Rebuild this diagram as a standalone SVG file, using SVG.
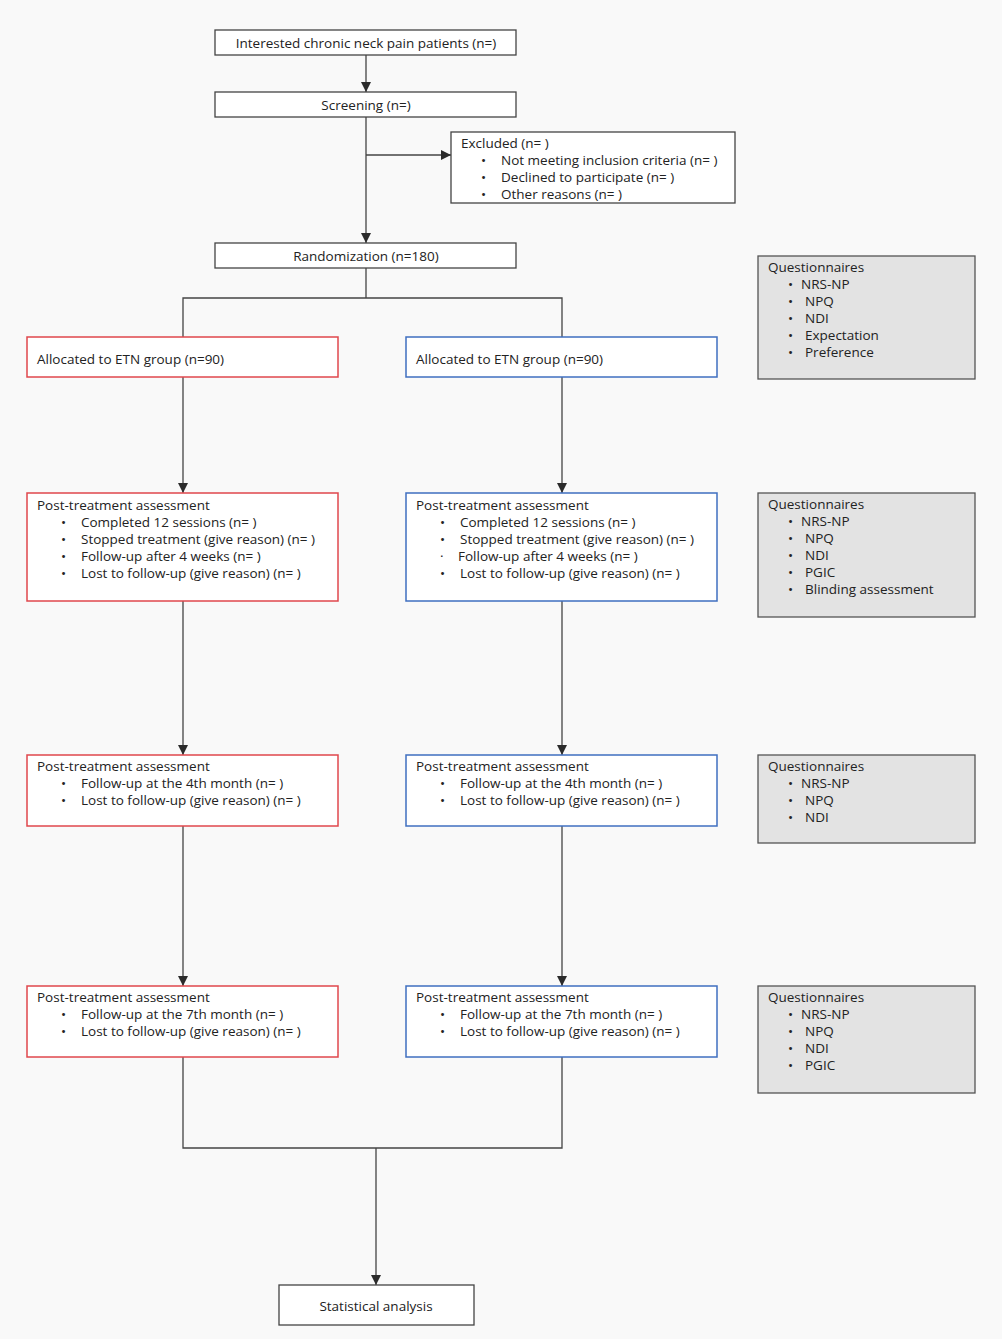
<svg xmlns="http://www.w3.org/2000/svg" width="1002" height="1339" viewBox="0 0 1002 1339">
<defs>
<marker id="arr" viewBox="0 0 10 10" refX="10" refY="5" markerWidth="10" markerHeight="10" markerUnits="userSpaceOnUse" orient="auto">
<path d="M0,0 L10,5 L0,10 Z" fill="#2b2b2b"/>
</marker>
<style>
text{font-family:"Open Sans","Noto Sans","Liberation Sans",sans-serif;font-size:13.5px;fill:#222}
.c{text-anchor:middle}
.box{fill:#fff;stroke:#444;stroke-width:1.3}
.red{fill:#fff;stroke:#e0474c;stroke-width:1.5}
.blue{fill:#fff;stroke:#3f6fc0;stroke-width:1.5}
.q{fill:#e3e3e3;stroke:#555;stroke-width:1.3}
.ln{fill:none;stroke:#444;stroke-width:1.3}
</style>
</defs>
<rect x="0" y="0" width="1002" height="1339" fill="#f9f9f9"/>
<g id="connectors">
<line class="ln" x1="366" y1="55" x2="366" y2="92" marker-end="url(#arr)"/>
<line class="ln" x1="366" y1="117" x2="366" y2="243" marker-end="url(#arr)"/>
<line class="ln" x1="366" y1="155" x2="451" y2="155" marker-end="url(#arr)"/>
<polyline class="ln" points="366,268 366,298"/>
<polyline class="ln" points="183,337 183,298 562,298 562,337"/>
<line class="ln" x1="183" y1="377" x2="183" y2="493" marker-end="url(#arr)"/>
<line class="ln" x1="562" y1="377" x2="562" y2="493" marker-end="url(#arr)"/>
<line class="ln" x1="183" y1="601" x2="183" y2="755" marker-end="url(#arr)"/>
<line class="ln" x1="562" y1="601" x2="562" y2="755" marker-end="url(#arr)"/>
<line class="ln" x1="183" y1="826" x2="183" y2="986" marker-end="url(#arr)"/>
<line class="ln" x1="562" y1="826" x2="562" y2="986" marker-end="url(#arr)"/>
<polyline class="ln" points="183,1057 183,1148 562,1148 562,1057"/>
<line class="ln" x1="376" y1="1148" x2="376" y2="1285" marker-end="url(#arr)"/>
</g>
<g id="interested">
<rect class="box" x="215" y="30" width="301" height="25"/>
<text class="c" x="366" y="48">Interested chronic neck pain patients (n=)</text>
</g>
<g id="screening">
<rect class="box" x="215" y="92" width="301" height="25"/>
<text class="c" x="366" y="110">Screening (n=)</text>
</g>
<g id="excluded">
<rect class="box" x="451" y="132" width="284" height="71"/>
<text x="461" y="148">Excluded (n= )</text>
<text x="481" y="165">•</text><text x="501" y="165">Not meeting inclusion criteria (n= )</text>
<text x="481" y="182">•</text><text x="501" y="182">Declined to participate (n= )</text>
<text x="481" y="199">•</text><text x="501" y="199">Other reasons (n= )</text>
</g>
<g id="randomization">
<rect class="box" x="215" y="243" width="301" height="25"/>
<text class="c" x="366" y="261">Randomization (n=180)</text>
</g>
<g id="alloc-left">
<rect class="red" x="27" y="337" width="311" height="40"/>
<text x="37" y="364">Allocated to ETN group (n=90)</text>
</g>
<g id="alloc-right">
<rect class="blue" x="406" y="337" width="311" height="40"/>
<text x="416" y="364">Allocated to ETN group (n=90)</text>
</g>
<g id="post1-left">
<rect class="red" x="27" y="493" width="311" height="108"/>
<text x="37" y="510">Post-treatment assessment</text>
<text x="61" y="527">•</text><text x="81" y="527">Completed 12 sessions (n= )</text>
<text x="61" y="544">•</text><text x="81" y="544">Stopped treatment (give reason) (n= )</text>
<text x="61" y="561">•</text><text x="81" y="561">Follow-up after 4 weeks (n= )</text>
<text x="61" y="578">•</text><text x="81" y="578">Lost to follow-up (give reason) (n= )</text>
</g>
<g id="post1-right">
<rect class="blue" x="406" y="493" width="311" height="108"/>
<text x="416" y="510">Post-treatment assessment</text>
<text x="440" y="527">•</text><text x="460" y="527">Completed 12 sessions (n= )</text>
<text x="440" y="544">•</text><text x="460" y="544">Stopped treatment (give reason) (n= )</text>
<text x="440" y="561">·</text><text x="458" y="561">Follow-up after 4 weeks (n= )</text>
<text x="440" y="578">•</text><text x="460" y="578">Lost to follow-up (give reason) (n= )</text>
</g>
<g id="post2-left">
<rect class="red" x="27" y="755" width="311" height="71"/>
<text x="37" y="771">Post-treatment assessment</text>
<text x="61" y="788">•</text><text x="81" y="788">Follow-up at the 4th month (n= )</text>
<text x="61" y="805">•</text><text x="81" y="805">Lost to follow-up (give reason) (n= )</text>
</g>
<g id="post2-right">
<rect class="blue" x="406" y="755" width="311" height="71"/>
<text x="416" y="771">Post-treatment assessment</text>
<text x="440" y="788">•</text><text x="460" y="788">Follow-up at the 4th month (n= )</text>
<text x="440" y="805">•</text><text x="460" y="805">Lost to follow-up (give reason) (n= )</text>
</g>
<g id="post3-left">
<rect class="red" x="27" y="986" width="311" height="71"/>
<text x="37" y="1002">Post-treatment assessment</text>
<text x="61" y="1019">•</text><text x="81" y="1019">Follow-up at the 7th month (n= )</text>
<text x="61" y="1036">•</text><text x="81" y="1036">Lost to follow-up (give reason) (n= )</text>
</g>
<g id="post3-right">
<rect class="blue" x="406" y="986" width="311" height="71"/>
<text x="416" y="1002">Post-treatment assessment</text>
<text x="440" y="1019">•</text><text x="460" y="1019">Follow-up at the 7th month (n= )</text>
<text x="440" y="1036">•</text><text x="460" y="1036">Lost to follow-up (give reason) (n= )</text>
</g>
<g id="quest1">
<rect class="q" x="758" y="256" width="217" height="123"/>
<text x="768" y="272">Questionnaires</text>
<text x="788" y="289">•</text><text x="801" y="289">NRS-NP</text>
<text x="788" y="306">•</text><text x="805" y="306">NPQ</text>
<text x="788" y="323">•</text><text x="805" y="323">NDI</text>
<text x="788" y="340">•</text><text x="805" y="340">Expectation</text>
<text x="788" y="357">•</text><text x="805" y="357">Preference</text>
</g>
<g id="quest2">
<rect class="q" x="758" y="493" width="217" height="124"/>
<text x="768" y="509">Questionnaires</text>
<text x="788" y="526">•</text><text x="801" y="526">NRS-NP</text>
<text x="788" y="543">•</text><text x="805" y="543">NPQ</text>
<text x="788" y="560">•</text><text x="805" y="560">NDI</text>
<text x="788" y="577">•</text><text x="805" y="577">PGIC</text>
<text x="788" y="594">•</text><text x="805" y="594">Blinding assessment</text>
</g>
<g id="quest3">
<rect class="q" x="758" y="755" width="217" height="88"/>
<text x="768" y="771">Questionnaires</text>
<text x="788" y="788">•</text><text x="801" y="788">NRS-NP</text>
<text x="788" y="805">•</text><text x="805" y="805">NPQ</text>
<text x="788" y="822">•</text><text x="805" y="822">NDI</text>
</g>
<g id="quest4">
<rect class="q" x="758" y="986" width="217" height="107"/>
<text x="768" y="1002">Questionnaires</text>
<text x="788" y="1019">•</text><text x="801" y="1019">NRS-NP</text>
<text x="788" y="1036">•</text><text x="805" y="1036">NPQ</text>
<text x="788" y="1053">•</text><text x="805" y="1053">NDI</text>
<text x="788" y="1070">•</text><text x="805" y="1070">PGIC</text>
</g>
<g id="statistical">
<rect class="box" x="279" y="1285" width="195" height="40"/>
<text class="c" x="376" y="1311">Statistical analysis</text>
</g>
</svg>
